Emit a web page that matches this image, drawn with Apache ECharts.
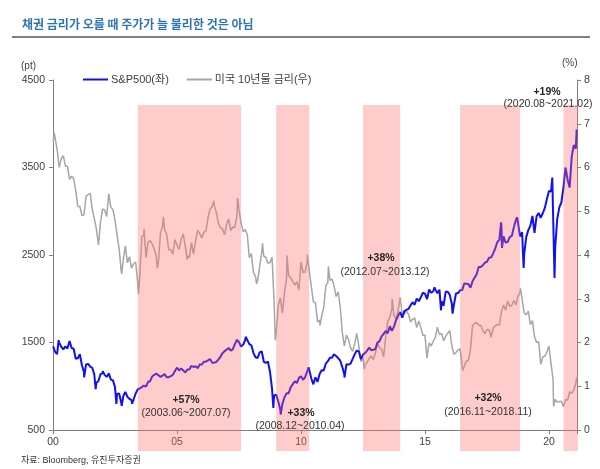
<!DOCTYPE html>
<html><head><meta charset="utf-8">
<script src="https://cdn.jsdelivr.net/npm/echarts@6/dist/echarts.min.js"></script>
<style>html,body{margin:0;padding:0;background:#fff}#c{width:600px;height:469px}</style>
</head><body><div id="c"></div>
<script>
// ---------- DATA ----------
// S&P500 month-end closes (pt)
const spx2000s = [
1394,1366,1499,1452,1421,1455,1431,1518,1437,1429,1315,1320,
1366,1240,1160,1249,1256,1224,1211,1134,1041,1060,1139,1148,
1130,1107,1147,1076,1067,990,912,916,815,886,936,880,
856,841,848,917,964,975,990,1008,996,1051,1058,1112,
1131,1145,1126,1107,1121,1141,1102,1104,1115,1130,1174,1212,
1181,1204,1181,1157,1192,1191,1234,1220,1229,1207,1249,1248,
1280,1281,1295,1311,1270,1270,1277,1304,1336,1378,1401,1418,
1438,1407,1421,1482,1531,1503,1455,1474,1527,1549,1481,1468,
1379,1331,1323,1386,1400,1280,1267,1283,1166,969,896,903,
826,735,798,873,919,919,987,1021,1057,1036,1096,1115];
const spx2010s = [
1074,1104,1169,1187,1089,1031,1102,1049,1141,1183,1181,1258,
1286,1327,1326,1364,1345,1321,1292,1219,1131,1253,1247,1258,
1312,1366,1408,1398,1310,1362,1379,1407,1441,1412,1416,1426,
1498,1515,1569,1598,1631,1606,1686,1633,1682,1757,1806,1848,
1783,1859,1872,1884,1924,1960,1931,2003,1972,2018,2068,2059,
1995,2105,2068,2086,2107,2063,2104,1972,1920,2079,2080,2044,
1940,1932,2060,2065,2097,2099,2174,2171,2168,2126,2199,2239,
2279,2364,2363,2384,2412,2423,2470,2472,2519,2575,2648,2674,
2824,2714,2641,2648,2705,2718,2816,2902,2914,2712,2760,2507,
2704,2784,2834,2946,2752,2942,2980,2926,2977,3038,3141,3231];
const spx2020s = [3226,2954,2585,2912,3044,3100,3271,3500,3363,3270,3622,3756,3714];
// S&P500 intra-month turning points
const spxTurnDates = ['2000-01-03','2000-03-24','2000-09-01','2001-04-04','2001-09-21','2002-01-04','2002-07-23','2002-10-09','2003-03-11','2007-10-09','2008-11-20','2009-03-09','2010-04-23','2010-07-02','2011-04-29','2011-10-03','2015-05-21','2015-08-25','2016-02-11','2018-01-26','2018-02-08','2018-09-20','2018-12-24','2020-02-19','2020-03-23','2021-02-12'];
const spxTurnValues = [1455,1527,1520,1103,966,1172,798,777,800,1565,752,677,1217,1022,1364,1099,2131,1868,1829,2873,2581,2931,2351,3386,2237,3934];

// US 10Y Treasury yield month-end (%)
const ust2000s = [
6.68,6.41,6.00,6.21,6.27,6.03,6.03,5.73,5.80,5.75,5.47,5.11,
5.11,4.90,4.92,5.34,5.38,5.41,5.05,4.83,4.59,4.23,4.75,5.05,
5.03,4.88,5.40,5.09,5.04,4.80,4.46,4.14,3.63,3.89,4.21,3.82,
3.96,3.70,3.80,3.84,3.37,3.52,4.41,4.47,3.94,4.29,4.33,4.25,
4.13,3.97,3.84,4.50,4.65,4.58,4.48,4.12,4.12,4.02,4.35,4.22,
4.13,4.36,4.48,4.20,3.98,3.94,4.28,4.02,4.33,4.56,4.49,4.39,
4.52,4.55,4.85,5.05,5.11,5.14,4.98,4.73,4.63,4.60,4.46,4.70,
4.82,4.56,4.64,4.63,4.89,5.03,4.74,4.53,4.58,4.47,3.94,4.03,
3.59,3.51,3.41,3.73,4.06,3.97,3.95,3.81,3.83,3.95,2.92,2.21,
2.84,3.02,2.67,3.12,3.46,3.53,3.48,3.40,3.31,3.39,3.20,3.84];
const ust2010s = [
3.60,3.61,3.83,3.65,3.28,2.93,2.91,2.47,2.51,2.60,2.80,3.29,
3.37,3.42,3.45,3.29,3.05,3.16,2.80,2.22,1.92,2.17,2.07,1.88,
1.80,1.98,2.21,1.91,1.56,1.65,1.49,1.55,1.63,1.69,1.61,1.76,
1.98,1.88,1.85,1.67,2.13,2.49,2.58,2.78,2.61,2.55,2.74,3.03,
2.64,2.65,2.72,2.65,2.47,2.53,2.56,2.34,2.49,2.34,2.16,2.17,
1.64,1.99,1.92,2.03,2.12,2.35,2.18,2.21,2.04,2.14,2.21,2.27,
1.92,1.73,1.77,1.83,1.85,1.47,1.45,1.58,1.59,1.83,2.38,2.44,
2.45,2.39,2.39,2.28,2.20,2.30,2.29,2.12,2.33,2.38,2.41,2.40,
2.71,2.86,2.74,2.95,2.83,2.85,2.96,2.86,3.06,3.14,2.99,2.68,
2.63,2.72,2.41,2.50,2.13,2.00,2.02,1.50,1.67,1.69,1.78,1.92];
const ust2020s = [1.51,1.15,0.70,0.64,0.65,0.66,0.53,0.70,0.68,0.87,0.84,0.91,1.07];
const ustTurnDates = ['2000-01-03','2000-01-20','2001-11-07','2002-10-09','2003-06-13','2003-09-02','2004-03-16','2004-06-14','2005-06-01','2006-06-28','2007-06-12','2008-03-17','2008-06-13','2008-12-18','2009-06-10','2010-04-05','2010-10-08','2011-02-08','2012-07-24','2013-09-05','2015-01-30','2016-07-08','2018-11-08','2019-09-03','2020-03-09','2020-08-04','2021-02-12'];
const ustTurnValues = [6.58,6.79,4.19,3.57,3.11,4.60,3.70,4.87,3.89,5.24,5.30,3.34,4.27,2.05,3.99,4.01,2.39,3.74,1.39,3.00,1.64,1.36,3.24,1.46,0.54,0.51,1.20];

// shaded periods (month start -> month end) and their labels
const shadeFrom = ['2003-06','2009-01','2012-07','2016-06','2020-08'];
const shadeTo   = ['2007-07','2010-04','2013-12','2018-10','2021-02'];
const annoPct   = ['+57%','+33%','+38%','+32%','+19%'];
const annoRange = ['(2003.06~2007.07)','(2008.12~2010.04)','(2012.07~2013.12)','(2016.11~2018.11)','(2020.08~2021.02)'];

const xTickYears = [2000, 2005, 2010, 2015, 2020];
const leftTicks = [500, 1500, 2500, 3500, 4500];
const rightTicks = [0,1,2,3,4,5,6,7,8];

// ---------- BUILD ----------
function dec(dateStr){
  const p = dateStr.split('-').map(Number);
  const y = p[0], m = p[1], d = p[2] || 1;
  const t0 = Date.UTC(y,0,1), t = Date.UTC(y,m-1,d), t1 = Date.UTC(y+1,0,1);
  return y + (t - t0)/(t1 - t0);
}
function build(decades, tDates, tVals){
  const pts = [];
  let i = 0;
  decades.forEach(arr => arr.forEach(v => { pts.push([2000 + (i+1)/12, v]); i++; }));
  tDates.forEach((d,k) => pts.push([dec(d), tVals[k]]));
  pts.sort((a,b)=>a[0]-b[0]);
  return pts;
}
const spxData = build([spx2000s, spx2010s, spx2020s], spxTurnDates, spxTurnValues);
const ustData = build([ust2000s, ust2010s, ust2020s], ustTurnDates, ustTurnValues);
const shadeData = shadeFrom.map((s,k)=>{
  const a = s.split('-').map(Number), b = shadeTo[k].split('-').map(Number);
  return [a[0] + (a[1]-1)/12, b[0] + b[1]/12];
});

const FONT = "'Liberation Sans', 'Noto Sans CJK KR', sans-serif";
const XMIN = 2000, XMAX = 2021.13;
const axisColor = '#7f7f7f';
const txt = '#404040';

// layout for annotation texts (pixel positions)
const annoPos = [[186,400,186,413],[301,413,300,426],[381,258,385,272],[488,398,488,412],[547,92,548,104]];

const graphics = [
  {type:'text', left:22, top:18, z:100, style:{text:'채권 금리가 오를 때 주가가 늘 불리한 것은 아님', font:"bold 12px 'Noto Sans CJK KR', sans-serif", fill:'#2E74B5'}},
  {type:'line', z:100, shape:{x1:12,y1:37,x2:590,y2:37}, style:{stroke:'#7f7f7f', lineWidth:2}},
  {type:'text', x:21, y:66, z:100, style:{text:'(pt)', font:'10px '+FONT, fill:txt, textVerticalAlign:'middle'}},
  {type:'text', x:562, y:63, z:100, style:{text:'(%)', font:'10px '+FONT, fill:txt, textVerticalAlign:'middle'}},
  {type:'text', x:21, y:461, z:100, style:{text:'자료: Bloomberg, 유진투자증권', font:'9px '+FONT, fill:'#333', textVerticalAlign:'middle'}}
];
annoPct.forEach((p,k)=>{
  const q = annoPos[k];
  graphics.push({type:'text', x:q[0], y:q[1], z:100, style:{text:p, font:'bold 10.5px '+FONT, fill:'#262626', textAlign:'center', textVerticalAlign:'middle'}});
  graphics.push({type:'text', x:q[2], y:q[3], z:100, style:{text:annoRange[k], font:'10.5px '+FONT, fill:'#333', textAlign:'center', textVerticalAlign:'middle'}});
});

const chart = echarts.init(document.getElementById('c'), null, {renderer:'canvas'});
chart.setOption({
  animation:false,
  backgroundColor:'#fff',
  textStyle:{fontFamily:FONT},
  grid:[
    {left:53, right:23, top:80, bottom:39},
    {left:53, right:23, top:105, bottom:18}
  ],
  legend:{
    left:78, top:69, itemWidth:25, itemHeight:2, itemGap:18, icon:'rect',
    textStyle:{fontSize:11, color:txt, fontFamily:FONT, padding:[0,0,0,-2]},
    data:['S&P500(좌)','미국 10년물 금리(우)']
  },
  xAxis:[
    {type:'value', gridIndex:0, min:XMIN, max:XMAX, interval:5,
     axisLine:{lineStyle:{color:axisColor, width:1}},
     axisTick:{show:true, length:4, lineStyle:{color:axisColor}},
     splitLine:{show:false},
     axisLabel:{fontSize:10.5, color:txt, margin:7,
       formatter:v => xTickYears.indexOf(Math.round(v))>=0 ? String(Math.round(v)%100).padStart(2,'0') : ''}},
    {type:'value', gridIndex:1, min:XMIN, max:XMAX, show:false}
  ],
  yAxis:[
    {type:'value', gridIndex:0, min:500, max:4500, interval:1000, position:'left',
     axisLine:{show:true, lineStyle:{color:axisColor}},
     axisTick:{show:true, length:4, lineStyle:{color:axisColor}},
     splitLine:{show:false},
     axisLabel:{fontSize:10.5, color:txt, margin:8, formatter:v => leftTicks.indexOf(v)>=0 ? String(v) : ''}},
    {type:'value', gridIndex:0, min:0, max:8, interval:1, position:'right',
     axisLine:{show:true, lineStyle:{color:axisColor}},
     axisTick:{show:true, length:4, lineStyle:{color:axisColor}},
     splitLine:{show:false},
     axisLabel:{fontSize:10.5, color:txt, margin:7, formatter:v => rightTicks.indexOf(v)>=0 ? String(v) : ''}},
    {type:'value', gridIndex:1, min:0, max:1, show:false}
  ],
  series:[
    {name:'S&P500(좌)', type:'line', xAxisIndex:0, yAxisIndex:0, data:spxData, showSymbol:false,
     lineStyle:{color:'#1010F0', width:2}, itemStyle:{color:'#1010F0'}, z:3},
    {name:'미국 10년물 금리(우)', type:'line', xAxisIndex:0, yAxisIndex:1, data:ustData, showSymbol:false,
     lineStyle:{color:'#A6A6A6', width:1.5}, itemStyle:{color:'#A6A6A6'}, z:2},
    {name:'shade', type:'custom', xAxisIndex:1, yAxisIndex:2, data:shadeData, silent:true, z:10,
     encode:{x:[0,1]},
     renderItem:function(params, api){
       const a = api.coord([api.value(0), 1]);
       const b = api.coord([api.value(1), 0]);
       return {type:'rect', shape:{x:a[0], y:a[1], width:b[0]-a[0], height:b[1]-a[1]},
               style:{fill:'rgba(255,110,110,0.35)'}};
     }}
  ],
  graphic:graphics
});
</script></body></html>
